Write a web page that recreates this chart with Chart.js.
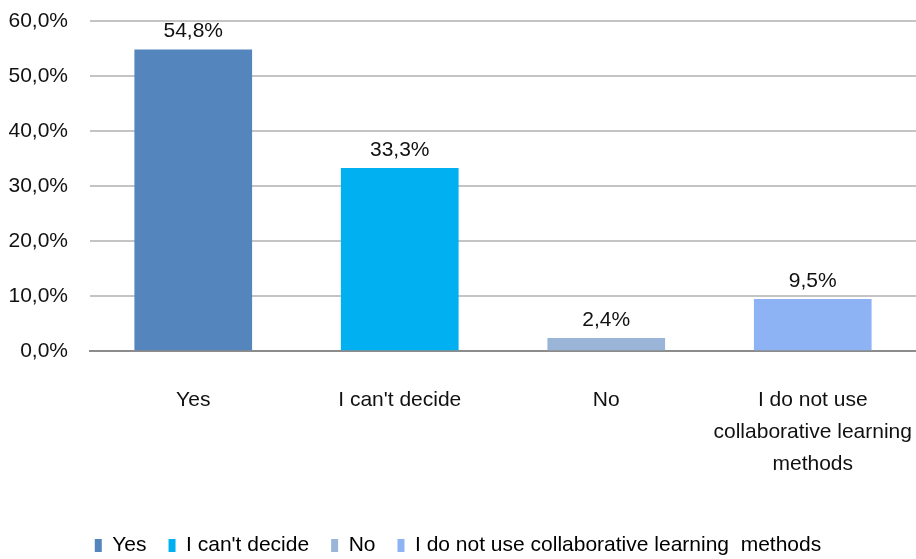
<!DOCTYPE html>
<html>
<head>
<meta charset="utf-8">
<script src="https://cdn.jsdelivr.net/npm/chart.js@4"></script>
<style>
  html, body { margin: 0; padding: 0; background: #fff; }
  #wrap { width: 916px; height: 559px; }
</style>
</head>
<body>
<div id="wrap"><canvas id="grafico"></canvas></div>
<script>
// dados
const categorias = [['Yes'], ["I can't decide"], ['No'], ['I do not use', 'collaborative learning', 'methods']];
const nomesLegenda = ['Yes', "I can't decide", 'No', 'I do not use collaborative learning  methods'];
const valores = [54.8, 33.3, 2.4, 9.5];
const cores = ['#5585BD', '#00B0F0', '#9AB5D7', '#8DB3F5'];

const fonte = "'Liberation Sans Narrow', 'Arial Narrow', 'Liberation Sans', sans-serif";

function fmt(v) {
  return v.toFixed(1).replace('.', ',') + '%';
}

// rótulos em cima das barras
const rotulos = {
  id: 'rotulos',
  afterDatasetsDraw(chart) {
    const ctx = chart.ctx;
    const meta = chart.getDatasetMeta(0);
    ctx.save();
    ctx.font = '21px ' + fonte;
    ctx.fillStyle = '#111';
    ctx.textAlign = 'center';
    ctx.textBaseline = 'middle';
    meta.data.forEach(function (bar, i) {
      ctx.fillText(fmt(valores[i]), bar.x, bar.y - 18);
    });
    ctx.restore();
  }
};

let ctx = document.getElementById('grafico');

new Chart(ctx, {
  type: 'bar',
  data: {
    labels: categorias,
    datasets: [{
      data: valores,
      backgroundColor: cores,
      barPercentage: 0.57,
      categoryPercentage: 1.0
    }]
  },
  options: {
    responsive: true,
    maintainAspectRatio: false,
    animation: false,
    layout: { autoPadding: false, padding: { top: 21, right: 0, left: 0, bottom: -7 } },
    scales: {
      x: {
        afterFit: function (s) { s.paddingLeft = 0; s.paddingRight = 0; },
        grid: { display: false, drawTicks: false },
        border: { color: '#8c8c8c', width: 2 },
        ticks: {
          color: '#111',
          font: { family: fonte, size: 21, lineHeight: 1.52 },
          padding: 33,
          maxRotation: 0,
          autoSkip: false
        }
      },
      y: {
        min: 0,
        max: 60,
        afterFit: function (s) { s.width = 90; s.paddingTop = 0; s.paddingBottom = 0; },
        grid: { color: '#c4c4c4', lineWidth: 2, drawTicks: false },
        border: { display: false },
        ticks: {
          stepSize: 10,
          color: '#111',
          font: { family: fonte, size: 21 },
          padding: 22,
          callback: function (v) { return fmt(v); }
        }
      }
    },
    plugins: {
      tooltip: { enabled: false },
      legend: {
        position: 'bottom',
        labels: {
          boxWidth: 7,
          boxHeight: 13,
          padding: 22,
          color: '#111',
          font: { family: fonte, size: 21 },
          generateLabels: function () {
            return nomesLegenda.map(function (n, i) {
              return { text: n, fillStyle: cores[i], strokeStyle: cores[i], lineWidth: 0, index: i };
            });
          }
        }
      }
    }
  },
  plugins: [rotulos]
});
</script>
</body>
</html>
